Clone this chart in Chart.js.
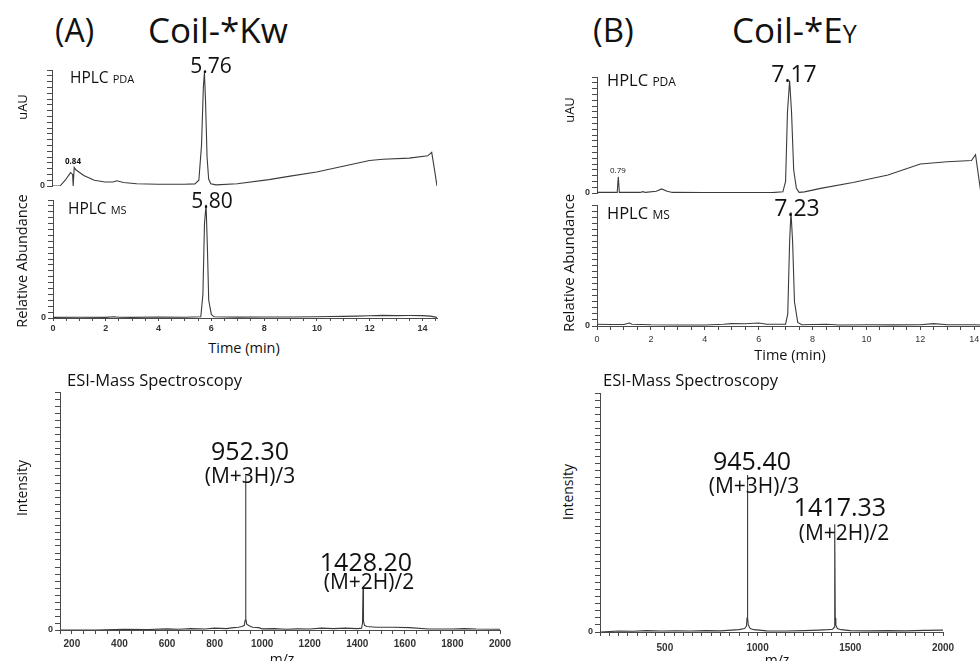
<!DOCTYPE html>
<html>
<head>
<meta charset="utf-8">
<script src="https://cdn.jsdelivr.net/npm/chart.js@4"></script>
<style>
html, body { margin:0; padding:0; background:#fff; width:980px; height:661px; overflow:hidden; position:relative; }
canvas { position:absolute; }
.t { position:absolute; white-space:nowrap; font-family:"Open Sans","Noto Sans",sans-serif; color:#111; line-height:1; }
</style>
</head>
<body>
<canvas id="pdaA"></canvas>
<canvas id="msA"></canvas>
<canvas id="esiA"></canvas>
<canvas id="pdaB"></canvas>
<canvas id="msB"></canvas>
<canvas id="esiB"></canvas>
<script>
// ---- data ----
// (A) Coil-*Kw, HPLC PDA trace (time in min, signal in % of axis)
const pdaA_time = [0, 0.3, 0.5, 0.7, 0.78, 0.8, 0.82, 0.84, 0.9, 1.2, 1.6, 2.0, 2.3, 2.45, 2.7, 3.2, 4.0, 5.0, 5.4, 5.55, 5.65, 5.72, 5.76, 5.8, 5.86, 5.92, 6.0, 6.2, 7.0, 8.2, 9.0, 10.0, 11.0, 12.0, 12.5, 13.5, 14.2, 14.35, 14.45, 14.55];
const pdaA_sig  = [0, 0, 5, 11.5, 10, 0, 0, 16, 14, 9, 5, 3.5, 3.5, 4.5, 3, 2, 1.5, 1.5, 1.8, 5, 35, 85, 98, 75, 25, 6, 2, 1, 2, 5.5, 8.5, 12, 17, 22, 23, 24, 26, 29, 15, 0];
// (A) HPLC MS trace
const msA_time = [0, 1, 2, 2.3, 2.5, 3, 4, 5, 5.6, 5.68, 5.74, 5.8, 5.85, 5.9, 6.0, 6.1, 7, 8, 9, 10, 10.5, 11, 11.5, 12, 12.5, 13, 13.5, 14, 14.3, 14.55];
const msA_sig  = [0.5, 0.6, 0.5, 1.0, 0.6, 0.5, 0.8, 0.6, 1, 20, 80, 96, 60, 15, 3, 1, 0.7, 0.8, 0.9, 1.1, 1.3, 1.4, 1.6, 1.9, 2.2, 2.0, 2.1, 2.0, 1.6, 0.5];
// (A) ESI-MS spectrum (m/z, intensity %)
const esiA_mz  = [150, 300, 420, 520, 600, 650, 700, 760, 800, 850, 880, 900, 915, 925, 928, 930, 932, 935, 945, 960, 985, 1000, 1050, 1100, 1150, 1200, 1250, 1300, 1350, 1400, 1418, 1422, 1424, 1426, 1430, 1440, 1480, 1550, 1620, 1700, 1800, 1850, 1900, 2000];
const esiA_int = [0, 0, 0.3, 0.2, 0.5, 0.3, 0.6, 0.4, 0.8, 0.6, 1.0, 1.2, 1.5, 2.0, 4, 66, 5, 2.5, 1.8, 1.2, 1.0, 0.5, 0.6, 0.3, 0.5, 0.4, 0.8, 0.6, 0.8, 0.6, 0.8, 3, 18, 4, 2, 1.5, 1.2, 1.2, 1.0, 0.4, 0.4, 0.6, 0.4, 0.3];

// (B) Coil-*Ey, HPLC PDA trace
const pdaB_time = [0, 0.75, 0.79, 0.83, 1.6, 1.7, 1.8, 2.2, 2.4, 2.6, 2.8, 4.0, 6.5, 6.9, 7.0, 7.07, 7.15, 7.22, 7.3, 7.4, 7.5, 7.7, 8.3, 9.5, 10.8, 12.0, 13.0, 13.9, 14.05, 14.25, 14.55];
const pdaB_sig  = [0.5, 0.5, 14, 0.5, 0.5, 1.2, 0.5, 1.5, 3.5, 1.5, 0.5, 0.3, 0.3, 1, 10, 70, 97, 70, 20, 4, 0.5, 1, 4, 9, 15.5, 25, 27, 28, 33, 0, 0];
// (B) HPLC MS trace
const msB_time = [0, 0.5, 1.0, 1.2, 1.3, 2, 3, 4, 4.7, 5, 5.5, 6, 6.3, 7.0, 7.08, 7.15, 7.2, 7.26, 7.33, 7.45, 7.6, 8.5, 9, 10, 11, 12, 12.5, 13, 14, 14.3, 14.55];
const msB_sig  = [1.5, 1.3, 1.2, 2.5, 1.5, 1.0, 0.8, 0.8, 1.5, 2, 1.8, 2.5, 1.5, 1.5, 10, 70, 94, 70, 20, 3, 1, 1.5, 0.8, 1.0, 0.9, 1.0, 2.0, 1.0, 1.0, 0.8, 0.2];
// (B) ESI-MS spectrum
const esiB_mz  = [150, 250, 330, 400, 480, 560, 640, 720, 800, 860, 900, 930, 940, 943, 945, 947, 950, 960, 980, 1050, 1150, 1250, 1330, 1380, 1405, 1413, 1415, 1417, 1419, 1422, 1430, 1450, 1500, 1600, 1700, 1800, 1900, 2000];
const esiB_int = [0, 0.4, 0.3, 0.6, 0.4, 0.5, 0.4, 0.6, 0.5, 0.8, 1.0, 1.5, 2.5, 6, 67, 6, 3, 1.5, 1.0, 0.5, 0.4, 0.6, 0.8, 1.0, 1.2, 2, 8, 46, 6, 3, 1.5, 1.0, 0.6, 0.5, 0.6, 0.5, 0.7, 0.8];

// tick labels
const timeLabels = [0, 2, 4, 6, 8, 10, 12, 14];
const mzLabelsA = [200, 400, 600, 800, 1000, 1200, 1400, 1600, 1800, 2000];
const mzLabelsB = [500, 1000, 1500, 2000];

// ---- drawing ----
const lineColor = '#3b3b3b';
const axisColor = '#4a4a4a';

function panel(id, box, xs, ys, o) {
  const yW = 22, padT = 8, padR = 18, padB = 4;
  const xH = o.showX ? o.xH : 0;
  const c = document.getElementById(id);
  const w = yW + box.w + padR, h = padT + box.h + xH + padB;
  c.width = w; c.height = h;
  c.style.width = w + 'px'; c.style.height = h + 'px';
  c.style.left = (box.x - yW) + 'px'; c.style.top = (box.y - padT) + 'px';

  new Chart(c, {
    type: 'line',
    data: {
      datasets: [{
        data: xs.map((x, i) => ({x: x, y: ys[i]})),
        borderColor: lineColor, borderWidth: 1.1,
        pointRadius: 0, tension: 0, fill: false
      }]
    },
    options: {
      responsive: false, animation: false, devicePixelRatio: 1,
      layout: {padding: {left: 0, top: padT, right: padR, bottom: padB}},
      plugins: {legend: {display: false}, tooltip: {enabled: false}},
      scales: {
        x: {
          type: 'linear', min: o.xmin, max: o.xmax, display: o.showX,
          border: {display: true, color: axisColor, width: 1},
          grid: {display: true, drawOnChartArea: false, drawTicks: true, tickLength: o.tickLen || 3, color: axisColor, lineWidth: 1},
          ticks: {
            stepSize: o.xStep, autoSkip: false, maxRotation: 0, includeBounds: false,
            padding: o.xPad || 1, color: '#333',
            font: {family: 'Liberation Sans', size: o.xFont || 9, weight: o.bold ? 'bold' : 'normal'},
            callback: v => o.xLabels && o.xLabels.some(l => Math.abs(l - v) < 1e-6) ? String(v) : ''
          },
          afterFit: s => { s.height = xH; s.paddingLeft = 0; s.paddingRight = 0; }
        },
        y: {
          type: 'linear', display: true, min: 0, max: o.ymax,
          border: {display: true, color: axisColor, width: 1},
          grid: {display: true, drawOnChartArea: false, drawTicks: true, tickLength: 5, color: axisColor, lineWidth: 1},
          ticks: {
            stepSize: o.yStep, autoSkip: false, padding: 2, color: '#333',
            font: {family: 'Liberation Sans', size: 9, weight: 'bold'},
            callback: v => v === 0 ? '0' : ''
          },
          afterFit: s => { s.width = yW; s.paddingTop = 0; s.paddingBottom = 0; }
        }
      }
    }
  });
}

panel('pdaA', {x: 52, y: 70, w: 385, h: 116}, pdaA_time, pdaA_sig,
  {xmin: 0, xmax: 14.55, ymax: 100, yStep: 5, showX: false, xStep: 0.5});
panel('msA', {x: 53, y: 200, w: 384, h: 118}, msA_time, msA_sig,
  {xmin: 0, xmax: 14.55, ymax: 100, yStep: 5, showX: true, xH: 16, xStep: 0.5, xLabels: timeLabels, bold: true, tickLen: 3, xPad: 2});
panel('esiA', {x: 60, y: 392, w: 440, h: 238}, esiA_mz, esiA_int,
  {xmin: 150, xmax: 2000, ymax: 102, yStep: 3, showX: true, xH: 20, xStep: 50, xLabels: mzLabelsA, bold: true, tickLen: 4, xPad: 4, xFont: 10});

panel('pdaB', {x: 597, y: 77, w: 392, h: 116}, pdaB_time, pdaB_sig,
  {xmin: 0, xmax: 14.55, ymax: 100, yStep: 5, showX: false, xStep: 0.5});
panel('msB', {x: 597, y: 205, w: 392, h: 121}, msB_time, msB_sig,
  {xmin: 0, xmax: 14.55, ymax: 100, yStep: 5, showX: true, xH: 18, xStep: 0.5, xLabels: timeLabels, bold: false, tickLen: 4, xPad: 4});
panel('esiB', {x: 600, y: 393, w: 343, h: 239}, esiB_mz, esiB_int,
  {xmin: 150, xmax: 2000, ymax: 102, yStep: 3, showX: true, xH: 20, xStep: 50, xLabels: mzLabelsB, bold: true, tickLen: 4, xPad: 6, xFont: 10});

// ---- text ----
function txt(html, x, y, size, anchor, rot) {
  const d = document.createElement('div');
  d.className = 't';
  d.innerHTML = html;
  d.style.left = x + 'px'; d.style.top = y + 'px';
  d.style.fontSize = size + 'px';
  if (rot) d.style.transform = 'translate(-50%,-50%) rotate(-90deg)';
  else d.style.transform = 'translate(' + (anchor === 'c' ? '-50%' : '0') + ',-53%)';
  document.body.appendChild(d);
}
const sm = (s, px) => '<span style="font-size:' + px + 'px">' + s + '</span>';

txt('(A)', 55, 31, 32, 'l');
txt('Coil-*Kw', 148, 31, 35, 'l');
txt('(B)', 593, 30, 33, 'l');
txt('Coil-*E' + sm('Y', 25), 732, 31, 35, 'l');

txt('HPLC ' + sm('PDA', 11), 70, 78, 15.5, 'l');
txt('5.76', 211, 66, 21, 'c');
txt('<b>0.84</b>', 65, 161, 8, 'l');
txt('uAU', 22, 107, 13, 'l', true);
txt('HPLC ' + sm('MS', 11), 68, 209, 15.5, 'l');
txt('5.80', 212, 201, 21, 'c');
txt('Relative Abundance', 22, 261, 14.5, 'l', true);
txt('Time (min)', 244, 349, 14.5, 'c');
txt('ESI-Mass Spectroscopy', 67, 381, 16.5, 'l');
txt('Intensity', 22, 488, 14, 'l', true);
txt('952.30', 250, 451, 25, 'c');
txt('(M+3H)/3', 250, 476, 21, 'c');
txt('1428.20', 366, 562, 25, 'c');
txt('(M+2H)/2', 369, 582, 21, 'c');
txt('m/z', 282, 659, 14, 'c');

txt('HPLC ' + sm('PDA', 12), 607, 81, 16.5, 'l');
txt('7.17', 794, 74, 23, 'c');
txt('0.79', 610, 170, 8, 'l');
txt('uAU', 569, 110, 13, 'l', true);
txt('HPLC ' + sm('MS', 12), 607, 214, 16.5, 'l');
txt('7.23', 797, 208, 23, 'c');
txt('Relative Abundance', 568, 263, 15, 'l', true);
txt('Time (min)', 790, 356, 14.5, 'c');
txt('ESI-Mass Spectroscopy', 603, 381, 16.5, 'l');
txt('Intensity', 568, 492, 14, 'l', true);
txt('945.40', 752, 461, 25, 'c');
txt('(M+3H)/3', 754, 486, 21, 'c');
txt('1417.33', 840, 507, 25, 'c');
txt('(M+2H)/2', 844, 533, 21, 'c');
txt('m/z', 777, 660, 14, 'c');
</script>
</body>
</html>
